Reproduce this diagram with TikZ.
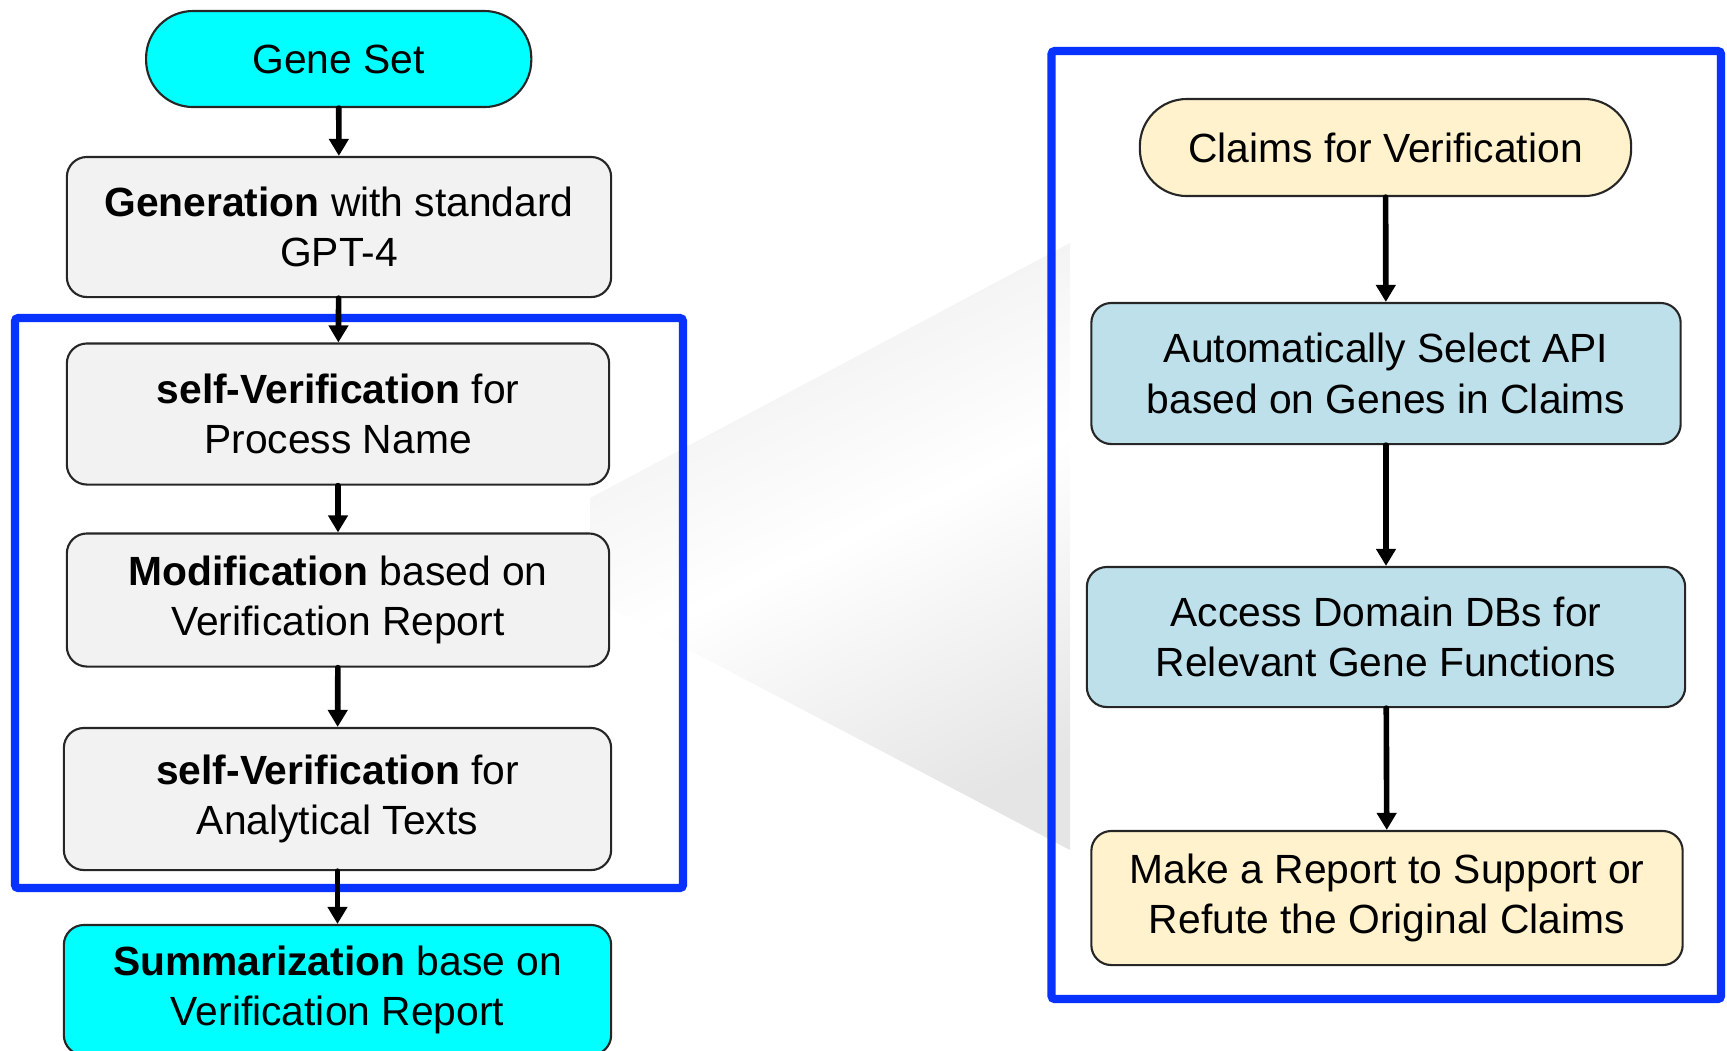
\documentclass[tikz,border=0pt]{standalone}
\usepackage{fontspec}
\setmainfont{Liberation Sans}
\usetikzlibrary{arrows.meta}
\definecolor{frameblue}{RGB}{8,51,255}
\definecolor{boxgray}{RGB}{242,242,242}
\definecolor{startcyan}{RGB}{0,255,255}
\definecolor{cream}{RGB}{255,242,204}
\definecolor{paleblue}{RGB}{190,224,235}
\begin{document}
\begin{tikzpicture}[x=0.01cm,y=-0.01cm,
  base/.style={draw=black!85,line width=0.6pt,align=center,inner sep=0pt,
    font=\fontsize{11.6}{14.4}\selectfont,text=black},
  procbox/.style={base,rectangle,rounded corners=0.2cm},
  pill/.style={base,rectangle,rounded corners=0.47cm},
  flow/.style={line width=1.6pt,line cap=round,-{Triangle[length=0.17cm,width=0.19cm]}},
  zoomframe/.style={draw=frameblue,line width=2.3pt,rounded corners=0.03cm}]
\useasboundingbox (0,0) rectangle (1727,1050);

% magnifying fan between the two panels
\shade[top color=gray!14,bottom color=gray!20,middle color=white,shading angle=25]
  (590,498) -- (1070,243) -- (1070,850) -- (590,598) -- cycle;

% frames
\draw[zoomframe] (15,318) rectangle (683,888);
\draw[zoomframe] (1051.5,51) rectangle (1721,999);

% left pipeline
\node[pill,fill=startcyan,minimum width=3.85cm,minimum height=0.96cm] (gene) at (338.7,59) {Gene Set};
\node[procbox,fill=boxgray,minimum width=5.44cm,minimum height=1.40cm] (gen) at (339,227)
  {\textbf{Generation} with standard\\GPT-4};
\node[procbox,fill=boxgray,minimum width=5.42cm,minimum height=1.41cm] (sv1) at (338,414)
  {\textbf{self-Verification} for\\Process Name};
\node[procbox,fill=boxgray,minimum width=5.42cm,minimum height=1.33cm] (mod) at (338,600)
  {\textbf{Modification} based on\\Verification Report};
\node[procbox,fill=boxgray,minimum width=5.47cm,minimum height=1.42cm] (sv2) at (337.5,799)
  {\textbf{self-Verification} for\\Analytical Texts};
\node[procbox,fill=startcyan,minimum width=5.47cm,minimum height=1.30cm] (sum) at (337.5,990)
  {\textbf{Summarization} base on\\Verification Report};

% right pipeline
\node[pill,fill=cream,minimum width=4.91cm,minimum height=0.97cm] (claims) at (1385.5,147.5)
  {Claims for Verification};
\node[procbox,fill=paleblue,minimum width=5.89cm,minimum height=1.41cm] (api) at (1386,373.5)
  {Automatically Select API\\based on Genes in Claims};
\node[procbox,fill=paleblue,minimum width=5.98cm,minimum height=1.40cm] (dbs) at (1386,637)
  {Access Domain DBs for\\Relevant Gene Functions};
\node[procbox,fill=cream,minimum width=5.91cm,minimum height=1.34cm] (report) at (1387,898)
  {Make a Report to Support or\\Refute the Original Claims};

% connectors
\draw[flow] (gene) -- (gen);
\draw[flow] (gen) -- (sv1);
\draw[flow] (sv1) -- (mod);
\draw[flow] (mod) -- (sv2);
\draw[flow] (sv2) -- (sum);
\draw[flow] (claims) -- (api);
\draw[flow] (api) -- (dbs);
\draw[flow] (dbs) -- (report);
\end{tikzpicture}
\end{document}
